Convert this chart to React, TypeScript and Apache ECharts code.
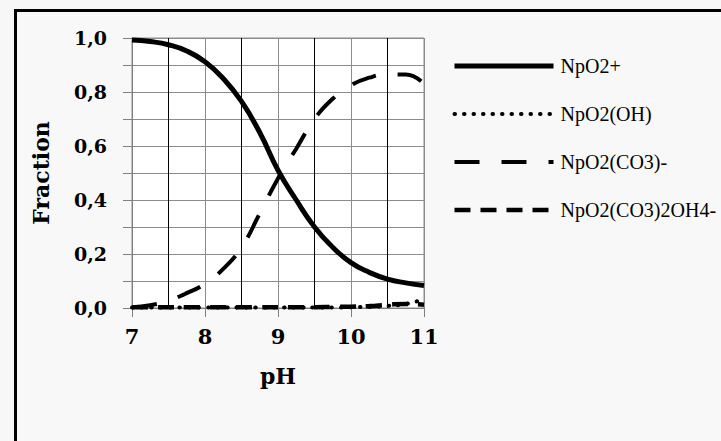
import React, { useEffect, useRef } from "react";
import * as echarts from "echarts";

const pH = [7, 7.25, 7.5, 7.75, 8, 8.25, 8.5, 8.75, 9, 9.25, 9.5, 9.75, 10, 10.25, 10.5, 10.75, 11];
const npo2 = [0.993, 0.987, 0.975, 0.952, 0.912, 0.85, 0.765, 0.65, 0.51, 0.4, 0.3, 0.225, 0.168, 0.132, 0.107, 0.093, 0.083];
const npo2oh = [0.002, 0.002, 0.002, 0.002, 0.002, 0.002, 0.002, 0.002, 0.002, 0.002, 0.002, 0.002, 0.003, 0.004, 0.008, 0.015, 0.033];
const npo2co3 = [0.003, 0.01, 0.028, 0.055, 0.09, 0.145, 0.225, 0.35, 0.48, 0.59, 0.7, 0.775, 0.825, 0.853, 0.865, 0.865, 0.83];
const npo2co32oh = [0.003, 0.003, 0.003, 0.003, 0.003, 0.003, 0.003, 0.003, 0.003, 0.003, 0.003, 0.004, 0.005, 0.007, 0.012, 0.015, 0.012];
const seriesNames = ["NpO2+", "NpO2(OH)", "NpO2(CO3)-", "NpO2(CO3)2OH4-"];

const pair = (ys: number[]) => pH.map((x, i) => [x, ys[i]]);

export default function App() {
  const ref = useRef<HTMLDivElement>(null);
  useEffect(() => {
    if (!ref.current) return;
    const chart = echarts.init(ref.current, null, { renderer: "svg" });
    const serif = "'Liberation Serif', 'Times New Roman', serif";
    const boldSerif = "'DejaVu Serif', serif";
    const styles: any[] = [
      { color: "#000", width: 5, type: "solid" },
      { color: "#000", width: 4, type: [0.5, 9], cap: "round" },
      { color: "#000", width: 4, type: [25, 22] },
      { color: "#000", width: 4.5, type: [16, 10] },
    ];
    const values = [npo2, npo2oh, npo2co3, npo2co32oh];
    chart.setOption({
      animation: false,
      backgroundColor: "#f7f7f7",
      graphic: [
        {
          type: "rect",
          z: -10,
          shape: { x: 15.5, y: 10.5, width: 800, height: 500 },
          style: { fill: "#f8f8f8", stroke: "#000", lineWidth: 3 },
        },
      ],
      grid: {
        left: 132,
        right: 297,
        top: 38,
        bottom: 133,
        show: true,
        backgroundColor: "#ffffff",
        borderColor: "#8c8c8c",
        borderWidth: 1,
      },
      legend: {
        orient: "vertical",
        left: 447,
        top: 51,
        itemWidth: 99,
        itemHeight: 22,
        itemGap: 28,
        itemStyle: { opacity: 0 },
        data: seriesNames.map((n, i) => ({ name: n, lineStyle: styles[i], itemStyle: { opacity: 0 } })),
        textStyle: { fontFamily: serif, fontSize: 20, color: "#000", padding: [0, 0, 0, 2] },
      },
      xAxis: {
        type: "value",
        min: 7,
        max: 11,
        interval: 1,
        name: "pH",
        nameLocation: "middle",
        nameGap: 57,
        nameTextStyle: { fontFamily: boldSerif, fontWeight: "bold", fontSize: 22, color: "#000" },
        axisLine: { show: true, lineStyle: { color: "#808080", width: 1 } },
        axisTick: { show: true, length: 9, lineStyle: { color: "#808080" } },
        axisLabel: { margin: 18, fontFamily: boldSerif, fontWeight: "bold", fontSize: 21, color: "#000" },
        splitLine: { show: true, lineStyle: { color: "#8c8c8c", width: 1 } },
        minorTick: { show: false, splitNumber: 2 },
        minorSplitLine: { show: true, lineStyle: { color: "#000", width: 1 } },
      },
      yAxis: {
        type: "value",
        min: 0,
        max: 1,
        interval: 0.1,
        name: "Fraction",
        nameLocation: "middle",
        nameRotate: 90,
        nameGap: 80,
        nameTextStyle: { fontFamily: boldSerif, fontWeight: "bold", fontSize: 22, color: "#000" },
        axisLine: { show: true, lineStyle: { color: "#808080", width: 1 } },
        axisTick: { show: true, length: 9, lineStyle: { color: "#808080" } },
        axisLabel: {
          margin: 25,
          fontFamily: boldSerif,
          fontWeight: "bold",
          fontSize: 19,
          color: "#000",
          formatter: (v: number) => (Math.round(v * 10) % 2 === 0 ? v.toFixed(1).replace(".", ",") : ""),
        },
        splitLine: { show: true, lineStyle: { color: "#8c8c8c", width: 1 } },
      },
      series: seriesNames.map((n, i) => ({
        name: n,
        type: "line",
        data: pair(values[i]),
        smooth: true,
        symbol: "none",
        clip: false,
        itemStyle: { color: "#000" },
        lineStyle: styles[i],
      })),
    });
    return () => chart.dispose();
  }, []);
  return (
    <div
      ref={ref}
      style={{ position: "fixed", left: 0, top: 0, width: 721, height: 441 }}
    />
  );
}
